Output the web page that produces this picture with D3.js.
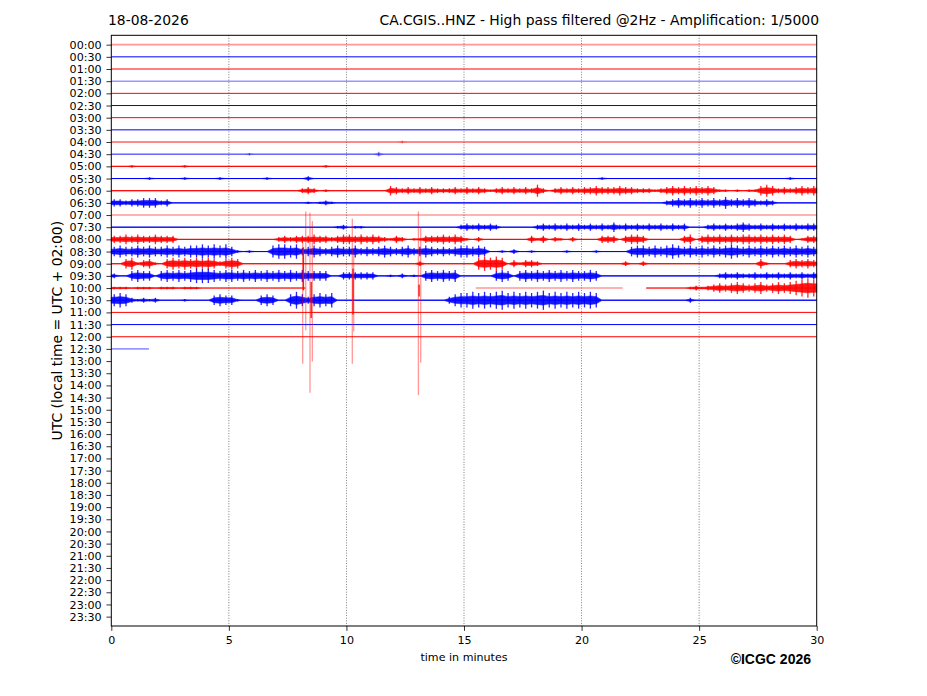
<!DOCTYPE html>
<html><head><meta charset="utf-8">
<script src="https://cdn.jsdelivr.net/npm/d3@7"></script>
<style>body{margin:0;background:#fff;} svg{display:block;}</style>
</head><body>
<svg id="chart" width="927" height="696"></svg>
<script>
// ---------------- data ----------------
const dateLabel = "18-08-2026";
const titleText = "CA.CGIS..HNZ - High pass filtered @2Hz - Amplification: 1/5000";
const yAxisTitle = "UTC (local time = UTC + 02:00)";
const xAxisTitle = "time in minutes";
const creditText = "©ICGC 2026";

const rowLabels = ["00:00","00:30","01:00","01:30","02:00","02:30","03:00","03:30",
  "04:00","04:30","05:00","05:30","06:00","06:30","07:00","07:30",
  "08:00","08:30","09:00","09:30","10:00","10:30","11:00","11:30",
  "12:00","12:30","13:00","13:30","14:00","14:30","15:00","15:30",
  "16:00","16:30","17:00","17:30","18:00","18:30","19:00","19:30",
  "20:00","20:30","21:00","21:30","22:00","22:30","23:00","23:30"];
const xTicks = [0, 5, 10, 15, 20, 25, 30];
const gridMinutes = [5, 10, 15, 20, 25];
const binMinutes = 0.25;        // each character = 15 s of trace envelope
const lastSampleMinute = 1.6;   // the last trace (12:30) stops here

// envelope amplitude per 15 s bin (0-9), "_" = no data, "|" separates 5-minute blocks
const traceEnvelopes = [
 "00000000000000000000|00000000000000000000|00000000000000000000|00000000000000000000|00000000000000000000|00000000000000000000", // 00:00
 "00000000000000000000|00000000000000000000|00000000000000000000|00000000000000000000|00000000000000000000|00000000000000000000", // 00:30
 "00000000000000000000|00000000000000000000|00000000000000000000|00000000000000000000|00000000000000000000|00000000000000000000", // 01:00
 "00000000000000000000|00000000000000000000|00000000000000000000|00000000000000000000|00000000000000000000|00000000000000000000", // 01:30
 "00000000000000000000|00000000000000000000|00000000000000000000|00000000000000000000|00000000000000000000|00000000000000000000", // 02:00
 "00000000000000000000|00000000000000000000|00000000000000000000|00000000000000000000|00000000000000000000|00000000000000000000", // 02:30
 "00000000000000000000|00000000000000000000|00000000000000000000|00000000000000000000|00000000000000000000|00000000000000000000", // 03:00
 "00000000000000000000|00000000000000000000|00000000000000000000|00000000000000000000|00000000000000000000|00000000000000000000", // 03:30
 "00000000000000000000|00000000000000000000|00000000010000000000|00000000000000000000|00000000000000000000|00000000000000000000", // 04:00
 "00000000000000000000|00010000000000000000|00000200000000000000|00000000000000000000|00000000000000000000|00000000000000000000", // 04:30
 "00010000000010000000|00000000000000001000|00000000000000000000|00000000000000000000|00000000000000000000|00000000000000000000", // 05:00
 "00000010000010000010|00000010000002000000|00000000000000000000|00000000000000000000|00010000000000000000|00000000000000010000", // 05:30
 "00000000000000000000|00000000000023201000|00000004323232322232|32321232323252023232|33433343322212343434|34311010114542323434", // 06:00
 "33233444230000000000|00000000000001012100|00000000000000000000|00000000000000000000|00000000000000234343|43435343432320000000", // 06:30
 "00000000000000000000|00000000000000000000|00000000000000000000|00000000000000000000|00000000000000000000|00000000000000000000", // 07:00
 "00000000000000000000|00000000000000000012|01100000000000000002|32323200000023232323|23232423232323232300|02323234323232323233", // 07:30
 "33434334333000000000|00000000232333433234|43434321320113334343|10200000000313021020|00033303443000000340|34343434434343430133", // 08:00
 "45445454454545565656|41010005665634543454|45343454345345434345|54540010200100000100|00100000455454565454|54545654545454545454", // 08:30
 "00451341045454545424|54000000000000000000|00000000000020000000|00565650313320000000|00000002002000000000|00000000004100034343", // 09:00
 "20045440454545666545|54545454545454444003|33333001020104545450|00000454045454545454|45400000000000000000|00023232232323232323", // 09:30
 "11101110111011100000|0000000000000_______|____________________|__000000000000000000|0000000____000000012|12343454345345456787", // 10:00
 "56521212000010000454|41000454005753565600|00000000000000000356|67676786767678676767|67600000000000000020|00000000000000000000", // 10:30
 "00000000000000000000|00000000000000000000|00000000000000000000|00000000000000000000|00000000000000000000|00000000000000000000", // 11:00
 "00000000000000000000|00000000000000000000|00000000000000000000|00000000000000000000|00000000000000000000|00000000000000000000", // 11:30
 "00000000000000000000|00000000000000000000|00000000000000000000|00000000000000000000|00000000000000000000|00000000000000000000", // 12:00
 "0000000_____________|____________________|____________________|____________________|____________________|____________________"  // 12:30
];

// large transients: [minute, max, min] in trace amplitude units, relative to their row
const spikeRow0700 = "07:00";
const spikes0700 = [[8.14, -23, -124], [8.27, 3, -96], [8.45, 2, -148], [8.55, -5, -122],
                    [10.25, -3, -124], [10.31, -30, -97], [13.06, 3, -150], [13.16, -10, -123]];
const spikeRow1000 = "10:00";
const spikes1000 = [[8.17, 34, -2], [8.5, 5, -25], [10.28, 16, -22], [13.09, 3, -7]];

// ---------------- styles ----------------
const paleRows = ["00:00", "01:30", "04:00", "04:30", "07:00", "12:30"];
const paleSpans = [["10:00", 3.75, 24.5]];
const evenColor = "#ff0000", oddColor = "#0000ff";

// ---------------- scales ----------------
const svg = d3.select("#chart");
const plotL = 111.3, plotR = 816.7, plotT = 35.3, plotB = 626;
const x = d3.scaleLinear().domain([0, 30]).range([plotL, plotR]);
const yRow = d3.scalePoint().domain(rowLabels).range([plotT, plotB]).padding(0.77);
const amp = d3.scaleLinear().domain([0, 1]).range([0, 1.2]);
const coreFactor = 0.5;
const font = "'DejaVu Sans', sans-serif";

// grid
svg.append("g").selectAll("line").data(gridMinutes).join("line")
  .attr("x1", d => x(d)).attr("x2", d => x(d))
  .attr("y1", plotT).attr("y2", plotB)
  .attr("stroke", "#000").attr("stroke-width", 0.7)
  .attr("stroke-dasharray", "1,1.6").attr("opacity", 0.75);

// traces
const gTr = svg.append("g");
traceEnvelopes.forEach((str, i) => {
  const label = rowLabels[i];
  const base = yRow(label);
  const color = i % 2 === 0 ? evenColor : oddColor;
  const pale = paleRows.includes(label);
  const vals = str.replace(/\|/g, "").split("");
  const isLast = i === traceEnvelopes.length - 1;
  const runs = [];
  let cur = null;
  vals.forEach((c, j) => {
    if (c === "_") { cur = null; return; }
    if (!cur) { cur = {start: j, bins: []}; runs.push(cur); }
    cur.bins.push({j, v: +c});
  });
  const spans = paleSpans.filter(p => p[0] === label);
  runs.forEach(run => {
    const m0 = run.start * binMinutes;
    let m1 = (run.start + run.bins.length) * binMinutes;
    if (isLast) m1 = Math.min(m1, lastSampleMinute);
    const cuts = [m0, m1];
    spans.forEach(s => { [s[1], s[2]].forEach(c => { if (c > m0 && c < m1) cuts.push(c); }); });
    cuts.sort((a, b) => a - b);
    for (let k = 0; k < cuts.length - 1; k++) {
      const a = cuts[k], b = cuts[k + 1];
      const mid = (a + b) / 2;
      const inPale = pale || spans.some(s => mid >= s[1] && mid <= s[2]);
      gTr.append("line")
        .attr("x1", x(a)).attr("x2", x(b)).attr("y1", base).attr("y2", base)
        .attr("stroke", color)
        .attr("stroke-width", inPale ? 1.6 : 1)
        .attr("opacity", inPale ? 0.4 : 1);
    }
    const active = run.bins.filter(b => b.v > 0);
    if (!active.length) return;
    // dense core of the burst (reduced envelope)
    const pts = [{m: m0, v: run.bins[0].v}]
      .concat(run.bins.map(b => ({m: (b.j + 0.5) * binMinutes, v: b.v})))
      .concat([{m: m1, v: run.bins[run.bins.length - 1].v}])
      .filter(p => p.m <= m1);
    const area = d3.area().x(p => x(p.m))
      .y0(p => base + amp(p.v) * coreFactor).y1(p => base - amp(p.v) * coreFactor)
      .curve(d3.curveLinear);
    gTr.append("path").attr("d", area(pts))
      .attr("fill", color).attr("stroke", color).attr("stroke-width", 0.6)
      .attr("opacity", pale ? 0.45 : 0.9);
    // peak excursions of each 15 s bin
    gTr.append("g").selectAll("line").data(active).join("line")
      .attr("x1", b => x((b.j + 0.5) * binMinutes)).attr("x2", b => x((b.j + 0.5) * binMinutes))
      .attr("y1", b => base - amp(b.v)).attr("y2", b => base + amp(b.v))
      .attr("stroke", color).attr("stroke-width", 1.3)
      .attr("opacity", pale ? 0.45 : 0.85);
  });
});

// spikes
const gSp = svg.append("g");
function drawSpikes(rowLabel, list, width, op) {
  const base = yRow(rowLabel);
  const i = rowLabels.indexOf(rowLabel);
  const color = i % 2 === 0 ? evenColor : oddColor;
  gSp.append("g").selectAll("line").data(list).join("line")
    .attr("x1", d => x(d[0])).attr("x2", d => x(d[0]))
    .attr("y1", d => base - amp(d[1])).attr("y2", d => base - amp(d[2]))
    .attr("stroke", color).attr("stroke-width", width).attr("opacity", op);
}
drawSpikes(spikeRow0700, spikes0700, 1.3, 0.4);
drawSpikes(spikeRow1000, spikes1000, 1.4, 0.9);

// frame
svg.append("rect").attr("x", plotL).attr("y", plotT)
  .attr("width", plotR - plotL).attr("height", plotB - plotT)
  .attr("fill", "none").attr("stroke", "#000").attr("stroke-width", 1);

// axes
const tick = 4.86;
const yAx = svg.append("g").attr("transform", `translate(${plotL},0)`)
  .call(d3.axisLeft(yRow).tickSize(tick).tickPadding(tick));
yAx.select(".domain").remove();
yAx.selectAll("text").attr("font-family", font).attr("font-size", 11.1).attr("fill", "#000");
yAx.selectAll("line").attr("stroke-width", 0.8);

const xAx = svg.append("g").attr("transform", `translate(0,${plotB})`)
  .call(d3.axisBottom(x).tickValues(xTicks).tickFormat(d3.format("d")).tickSize(tick).tickPadding(tick));
xAx.select(".domain").remove();
xAx.selectAll("text").attr("font-family", font).attr("font-size", 11.1).attr("fill", "#000");
xAx.selectAll("line").attr("stroke-width", 0.8);

// texts
svg.append("text").attr("x", 108).attr("y", 25).text(dateLabel)
  .attr("font-family", font).attr("font-size", 13.9).attr("fill", "#000");
svg.append("text").attr("x", 819).attr("y", 25).attr("text-anchor", "end").text(titleText)
  .attr("font-family", font).attr("font-size", 13.9).attr("fill", "#000");
svg.append("text").attr("transform", `translate(62,${(plotT + plotB) / 2}) rotate(-90)`)
  .attr("text-anchor", "middle").text(yAxisTitle)
  .attr("font-family", font).attr("font-size", 13.9).attr("fill", "#000");
svg.append("text").attr("x", (plotL + plotR) / 2).attr("y", 661).attr("text-anchor", "middle")
  .text(xAxisTitle).attr("font-family", font).attr("font-size", 11.1).attr("fill", "#000");
svg.append("text").attr("x", 811).attr("y", 664).attr("text-anchor", "end").text(creditText)
  .attr("font-family", "'Liberation Sans', Arial, sans-serif").attr("font-weight", "bold")
  .attr("font-size", 14).attr("fill", "#000");
</script>
</body></html>
